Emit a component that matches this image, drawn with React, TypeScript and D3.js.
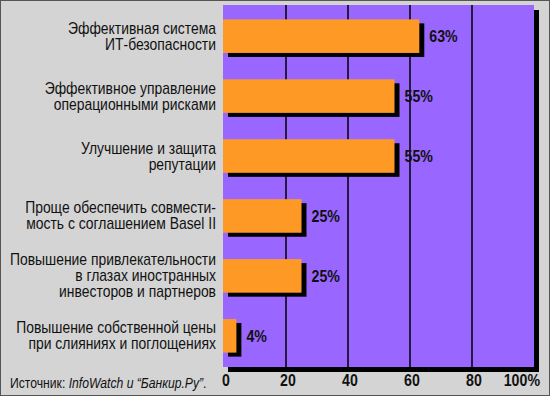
import React from "react";
import * as d3 from "d3";

const categories: string[][] = [
  ["Эффективная система", "ИТ-безопасности"],
  ["Эффективное управление", "операционными рисками"],
  ["Улучшение и защита", "репутации"],
  ["Проще обеспечить совмести-", "мость с соглашением Basel II"],
  ["Повышение привлекательности", "в глазах иностранных", "инвесторов и партнеров"],
  ["Повышение собственной цены", "при слияниях и поглощениях"],
];
const values: number[] = [63, 55, 55, 25, 25, 4];
const valueLabels: string[] = ["63%", "55%", "55%", "25%", "25%", "4%"];
const ticks: number[] = [0, 20, 40, 60, 80, 100];
const tickLabels: string[] = ["0", "20", "40", "60", "80", "100%"];

const W = 550;
const H = 396;
const left = 223;
const right = 534;
const top = 5;
const bottom = 367;
const font = "'Liberation Sans', Arial, sans-serif";

function T(props: {
  x: number;
  y: number;
  sx: number;
  size: number;
  anchor?: string;
  bold?: boolean;
  children: React.ReactNode;
}) {
  return (
    <text
      transform={`translate(${props.x},${props.y}) scale(${props.sx},1)`}
      fontSize={props.size}
      fontWeight={props.bold ? "bold" : "normal"}
      textAnchor={props.anchor || "start"}
      fill="#111"
    >
      {props.children}
    </text>
  );
}

export default function App() {
  const x = d3.scaleLinear().domain([0, 100]).range([left + 1, right]);
  const y = d3
    .scaleBand<number>()
    .domain(d3.range(values.length))
    .range([top, bottom])
    .paddingInner(0.44)
    .paddingOuter(0.24);
  const bw = y.bandwidth();
  const sh = 4;
  return (
    <svg
      width={W}
      height={H}
      style={{ position: "absolute", left: 0, top: 0 }}
      fontFamily={font}
    >
      <rect x={0.5} y={0.5} width={W - 1} height={H - 1} fill="#d4d4d4" stroke="#555" />
      <rect x={left + 5} y={top + 5} width={right - left} height={bottom - top} fill="#000" />
      <rect x={left} y={top} width={right - left} height={bottom - top} fill="#9966ff" />
      {ticks.slice(1, -1).map((t) => (
        <line key={t} x1={x(t)} x2={x(t)} y1={top} y2={bottom} stroke="#000" strokeWidth={1.5} />
      ))}
      {values.map((v, i) => {
        const y0 = y(i)!;
        return (
          <g key={i}>
            <rect x={left + 5} y={y0 + sh} width={x(v) - left} height={bw} fill="#000" />
            <rect x={left} y={y0} width={x(v) - left} height={bw} fill="#ff9926" />
            <T x={x(v) + sh + 6} y={y0 + bw / 2 + 6} sx={0.86} size={16.5} bold>
              {valueLabels[i]}
            </T>
            {categories[i].map((line, j) => {
              const n = categories[i].length;
              const cy = y0 + bw / 2 + (j - (n - 1) / 2) * 16 + 5.5;
              return (
                <T key={j} x={216} y={cy} sx={0.88} size={15.8} anchor="end">
                  {line}
                </T>
              );
            })}
          </g>
        );
      })}
      {ticks.map((t, i) => (
        <T
          key={t}
          x={t === 100 ? 540 : x(t) + 2}
          y={386}
          sx={0.86}
          size={16.5}
          anchor={t === 100 ? "end" : "middle"}
          bold
        >
          {tickLabels[i]}
        </T>
      ))}
      <text transform="translate(10,388) scale(0.84,1)" fontSize={14.5} fill="#111">
        <tspan>Источник: </tspan>
        <tspan fontStyle="italic">InfoWatch и “Банкир.Ру”</tspan>
        <tspan>.</tspan>
      </text>
    </svg>
  );
}
